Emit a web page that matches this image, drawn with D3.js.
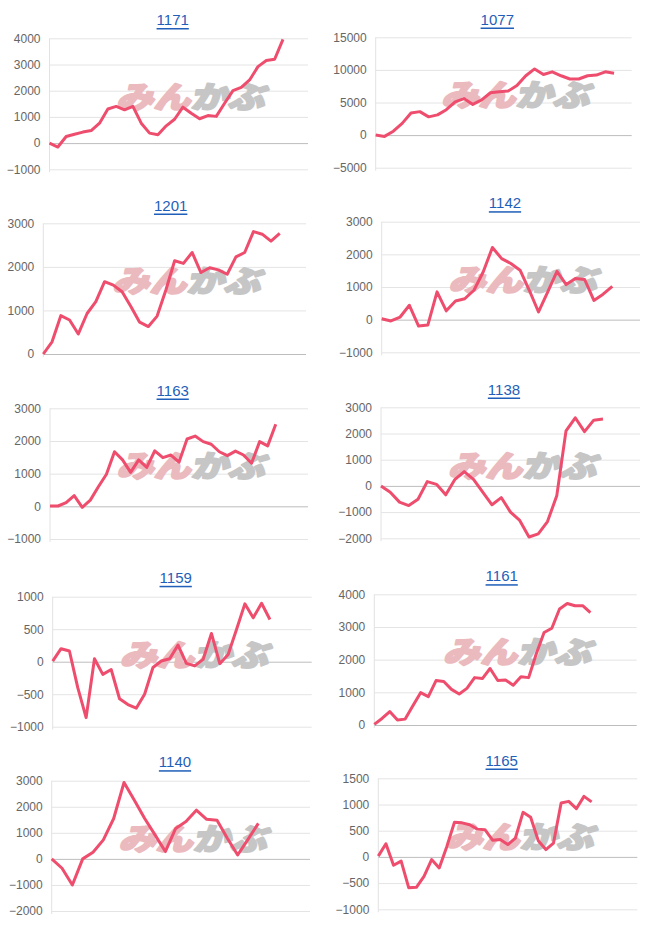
<!DOCTYPE html>
<html><head><meta charset="utf-8">
<script src="https://cdn.jsdelivr.net/npm/d3@7"></script>
<style>
html,body{margin:0;padding:0;background:#fff;}
svg{display:block;}
</style></head>
<body>
<svg id="c" width="651" height="925"></svg>
<script>
// ---- data ----
const titles = ["1171","1077","1201","1142","1163","1138","1159","1161","1140","1165"];
const s1171 = [0,-150,250,340,420,480,760,1300,1400,1270,1400,760,380,320,660,910,1370,1140,930,1050,1020,1520,2000,2130,2410,2920,3150,3200,3960];
const s1077 = [0,-200,600,1800,3400,3600,2800,3100,3900,5100,5600,4700,5400,6500,6650,6750,7600,9100,10150,9300,9700,9100,8600,8600,9100,9200,9700,9500];
const s1201 = [0,280,880,780,460,930,1200,1660,1580,1430,1090,730,630,870,1470,2140,2080,2330,1870,1980,1930,1830,2230,2330,2810,2750,2590,2770];
const s1142 = [30,-40,80,440,-195,-165,850,270,570,640,900,1460,2210,1870,1720,1515,900,235,850,1480,1075,1260,1230,590,780,1020];
const s1163 = [10,10,110,330,-30,190,600,980,1670,1420,1040,1420,1190,1700,1490,1570,1350,2060,2150,1980,1900,1670,1550,1690,1570,1320,1980,1850,2510];
const s1138 = [0,-240,-620,-750,-510,165,60,-340,250,545,250,-240,-720,-445,-1000,-1320,-1950,-1830,-1360,-380,2100,2600,2070,2510,2550];
const s1159 = [10,200,165,-400,-860,45,-195,-120,-570,-660,-715,-500,-90,10,45,255,-25,-65,35,435,-30,110,495,890,675,900,650];
const s1161 = [20,200,410,150,180,590,990,870,1360,1330,1090,950,1120,1450,1420,1730,1360,1380,1220,1480,1450,2190,2830,2960,3550,3720,3650,3650,3440];
const s1140 = [0,-360,-1000,0,255,730,1550,2930,2250,1550,920,280,1170,1430,1870,1520,1480,790,150,750,1360];
const s1165 = [15,250,-160,-80,-590,-580,-370,-50,-210,200,660,650,615,530,520,320,330,235,360,850,755,310,140,265,1030,1060,920,1155,1050];
const seriesList = [s1171,s1077,s1201,s1142,s1163,s1138,s1159,s1161,s1140,s1165];
const yTicks = [
  [-1000,0,1000,2000,3000,4000],
  [-5000,0,5000,10000,15000],
  [0,1000,2000,3000],
  [-1000,0,1000,2000,3000],
  [-1000,0,1000,2000,3000],
  [-2000,-1000,0,1000,2000,3000],
  [-1000,-500,0,500,1000],
  [0,1000,2000,3000,4000],
  [-2000,-1000,0,1000,2000,3000],
  [-1000,-500,0,500,1000,1500]
];
const xSlots = [32,30,31,29,33,29,32,35,26,35];

// ---- layout (measured panel frames) ----
// [titleX, titleY, left, right, top, bottom]
const frames = [
  [172.7, 19.5, 49.5, 308, 38.3, 169.3],
  [497.3, 19, 375.7, 631.7, 37.3, 167.7],
  [170.7, 205, 43.3, 306, 223.3, 354],
  [505, 202.7, 381.7, 640, 221.7, 352.3],
  [172.7, 390, 50, 308, 408.3, 539],
  [504, 389, 381, 640, 407.3, 538.3],
  [175.7, 577.3, 52.7, 311.7, 596.7, 726.7],
  [501.7, 575.7, 374.3, 636.7, 594.3, 725],
  [175, 761.7, 51.7, 310, 780.7, 911],
  [501.7, 760, 378.3, 637.3, 778.3, 909.3]
];

const svg = d3.select("#c");
const FONT = "'Liberation Sans', Arial, Helvetica, sans-serif";

seriesList.forEach((data, i) => {
  const [tx, ty, L, R, T, B] = frames[i];
  const ticks = yTicks[i];
  const x = d3.scaleLinear().domain([0, xSlots[i] - 1]).range([L, R]);
  const y = d3.scaleLinear().domain([ticks[0], ticks[ticks.length - 1]]).range([B, T]);
  const g = svg.append("g");

  // title
  g.append("text")
    .attr("x", tx).attr("y", ty)
    .attr("text-anchor", "middle")
    .attr("dominant-baseline", "central")
    .attr("font-family", FONT)
    .attr("font-size", 15)
    .attr("fill", "#1f5fb9")
    .attr("text-decoration", "underline")
    .text(titles[i]);

  // y axis with gridlines
  const ax = g.append("g")
    .attr("transform", `translate(${L},0)`)
    .call(d3.axisLeft(y).tickValues(ticks).tickSize(-(R - L)).tickSizeOuter(0).tickPadding(9).tickFormat(d3.format("d")));
  ax.select(".domain").attr("stroke", "#e2e2e2").attr("d", `M0,${T}V${B + 3}`);
  ax.selectAll(".tick line").attr("stroke", d => d === 0 ? "#bdbdbd" : "#e4e4e4").attr("stroke-width", 1);
  ax.selectAll(".tick text")
    .attr("font-family", FONT).attr("font-size", 12).attr("fill", "#666");

  // watermark
  const cx = (L + R) / 2 + 15, cy = (T + B) / 2 - 9;
  const wm = g.append("g")
    .attr("transform", `translate(${cx},${cy}) skewX(-14)`);
  const wt = wm.append("text")
    .attr("x", 0).attr("y", 0)
    .attr("text-anchor", "middle")
    .attr("dominant-baseline", "central")
    .attr("font-family", "'Noto Sans CJK JP', sans-serif")
    .attr("font-weight", 900)
    .attr("font-size", 30)
    .attr("textLength", 148)
    .attr("lengthAdjust", "spacingAndGlyphs")
    .attr("stroke-width", 2)
    .attr("stroke-linejoin", "round");
  wt.append("tspan").attr("fill", "#ebbabe").attr("stroke", "#ebbabe").text("みん");
  wt.append("tspan").attr("fill", "#c6c6c6").attr("stroke", "#c6c6c6").text("かぶ");

  // line
  const line = d3.line().x((d, j) => x(j)).y(d => y(d));
  g.append("path")
    .datum(data)
    .attr("d", line)
    .attr("fill", "none")
    .attr("stroke", "#ee4d6d")
    .attr("stroke-width", 3)
    .attr("stroke-linejoin", "round")
    .attr("stroke-linecap", "butt");
});
</script>
</body></html>
